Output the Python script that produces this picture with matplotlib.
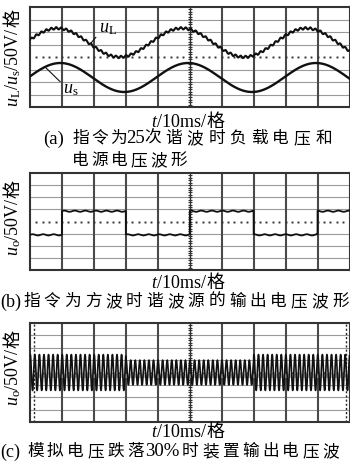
import numpy as np
import matplotlib
matplotlib.use('Agg')
import matplotlib.pyplot as plt

plt.rcParams['font.family'] = ['Liberation Serif', 'Noto Sans CJK SC']
plt.rcParams['mathtext.fontset'] = 'custom'
plt.rcParams['mathtext.rm'] = 'Liberation Serif'
plt.rcParams['mathtext.it'] = 'Liberation Serif:italic'

W, H = 350, 466

# screen readings, all in scope divisions (10 x 8 grid)
# (a) load voltage uL and source voltage us
uL_offset, uL_amp, uL_period, uL_peak = 1.15, 1.15, 3.9, 0.85
uL_harm, uL_harm_amp = 25, 0.09
us_offset, us_amp, us_period, us_peak = -1.64, 1.16, 4.0, 0.95

# (b) square wave output
sq_edges = [1.0, 3.0, 5.0, 7.0, 9.0]      # first edge rises
sq_high, sq_low = 0.85, -1.1
sq_ripple_amp, sq_ripple_period = 0.05, 0.33

# (c) 30% voltage sag
sag_bounds = [0.0, 3.0, 7.0, 10.0]
sag_amps = [1.45, 1.0, 1.45]
sag_cycles_per_div = 7

t = np.linspace(0, 10, 8000)


def uL(x):
    x = np.asarray(x)
    return (uL_offset + uL_amp * np.cos(2 * np.pi * (x - uL_peak) / uL_period)
            + uL_harm_amp * np.sin(2 * np.pi * uL_harm * x / uL_period))


def us(x):
    x = np.asarray(x)
    return us_offset + us_amp * np.cos(2 * np.pi * (x - us_peak) / us_period)


def square(x):
    n = np.searchsorted(sq_edges, x)
    lvl = np.where(n % 2 == 1, sq_high, sq_low)
    return lvl + sq_ripple_amp * np.sin(2 * np.pi * x / sq_ripple_period)


def sag(x):
    idx = np.clip(np.searchsorted(sag_bounds, x, side='right') - 1, 0, len(sag_amps) - 1)
    amp = np.array(sag_amps)[idx]
    return amp * np.sin(2 * np.pi * sag_cycles_per_div * x + 1.2)


def scope(ax):
    ax.set_xlim(0, 10)
    ax.set_ylim(-4, 4)
    ax.set_xticks([])
    ax.set_yticks([])
    for y in [-3, -2, -1, 1, 2, 3]:
        ax.axhline(y, color='#9a9a9a', lw=0.8, zorder=1)
    for x in [1, 2, 3, 4, 6, 7, 8, 9]:
        ax.axvline(x, color='#4a4a4a', lw=1.5, zorder=1)
    ax.axvline(5, color='#333333', lw=1.0, zorder=1)
    yt = np.arange(-3.8, 4, 0.2)
    ax.plot(np.full_like(yt, 5), yt, ls='none', marker='_', ms=3.5, mew=0.8,
            color='#333333', zorder=1)
    xt = np.arange(0.2, 10, 0.2)
    ax.plot(xt, np.zeros_like(xt), ls='none', marker='s', ms=1.4, mew=0,
            color='#333333', zorder=1)
    for s in ax.spines.values():
        s.set_color('#333333')
        s.set_linewidth(1.5)


def fx(px):
    return px / W


def fy(py):
    return 1 - py / H


def put(x, y, s, size=12, **kw):
    fig.text(fx(x), fy(y), s, fontsize=size, ha='left', va='center', **kw)


def put_chars(x0, y, s, pitch, size=12):
    for i, ch in enumerate(s):
        put(x0 + i * pitch, y, ch, size=size)


def pieces_width(pieces, size):
    out = []
    for p in pieces:
        tmp = fig.text(0, 0, p, fontsize=size)
        out.append(tmp.get_window_extent(renderer).width)
        tmp.remove()
    return out


def xlabel_row(xc, base_y, pieces, size=13):
    ws = pieces_width(pieces, size)
    x = xc - sum(ws) / 2
    for p, w in zip(pieces, ws):
        fig.text(fx(x), fy(base_y), p, fontsize=size, ha='left', va='baseline')
        x += w


def ylabel_col(base_x, yc, pieces, size=13):
    ws = pieces_width(pieces, size)
    y = (H - yc) - sum(ws) / 2      # pixels from bottom
    for p, w in zip(pieces, ws):
        fig.text(fx(base_x), y / H, p, fontsize=size, rotation=90,
                 rotation_mode='anchor', ha='left', va='baseline')
        y += w


fig = plt.figure(figsize=(W / 100, H / 100), dpi=100)
renderer = fig.canvas.get_renderer()

# panel (a)
ax1 = fig.add_axes([fx(30), fy(107), 319.5 / W, 100 / H])
scope(ax1)
ax1.plot(t, uL(t), color='#111111', lw=1.5, zorder=3)
ax1.plot(t, us(t), color='#111111', lw=1.7, zorder=3)
ax1.annotate('$u_{\\rm L}$', xy=(1.9, float(uL(1.9))), xytext=(2.15, 2.25),
             fontsize=13, ha='left', va='center',
             arrowprops=dict(arrowstyle='-', lw=0.8, color='#111111',
                             shrinkA=0, shrinkB=0, relpos=(0, 0.2)))
ax1.annotate('$u_{\\rm s}$', xy=(0.47, float(us(0.47))), xytext=(1.03, -2.6),
             fontsize=13, ha='left', va='center',
             arrowprops=dict(arrowstyle='-', lw=0.8, color='#111111',
                             shrinkA=0, shrinkB=0, relpos=(0, 0.8)))

# panel (b)
ax2 = fig.add_axes([fx(30), fy(270), 319.5 / W, 97 / H])
scope(ax2)
ax2.plot(t, square(t), color='#111111', lw=1.3, zorder=3)

# panel (c)
ax3 = fig.add_axes([fx(30), fy(422), 319.5 / W, 99 / H])
scope(ax3)
ax3.axhline(-0.25, color='#bbbbbb', lw=3, zorder=2)
ax3.axvline(0.12, color='#222222', lw=1.0, ls=(0, (1.5, 1.5)), zorder=2)
ax3.axvline(9.9, color='#222222', lw=1.0, ls=(0, (1.5, 1.5)), zorder=2)
ax3.plot(t, sag(t), color='#111111', lw=1.2, zorder=3)

# axis labels
ylabel_col(18, 58, ['$u_{\\rm L}$/$u_{\\rm s}$/50V/', '格'])
ylabel_col(18, 218, ['$u_{\\rm o}$/50V/', '格'])
ylabel_col(18, 368, ['$u_{\\rm o}$/50V/', '格'])
for base in [127, 288, 437]:
    xlabel_row(188, base, ['$t$/10ms/', '格'])

# captions
put(43, 139, '(a)', size=13.5)
put_chars(72, 139, '指令为', 19)
put(126, 139, '25', size=13.5)
put_chars(144, 139, '次谐波时负载电压和', 21.4)
put_chars(72, 161, '电源电压波形', 19.6)

put(0, 302, '(b)', size=13)
put_chars(23, 302, '指令为方波时谐波源的输出电压波形', 20.6)

put(0, 452, '(c)', size=13)
put_chars(27, 452, '模拟电压跌落', 20)
put(145, 452, '30%', size=13.5)
put_chars(182, 452, '时装置输出电压波', 20)

fig.savefig('out.png', dpi=100, facecolor='white')
